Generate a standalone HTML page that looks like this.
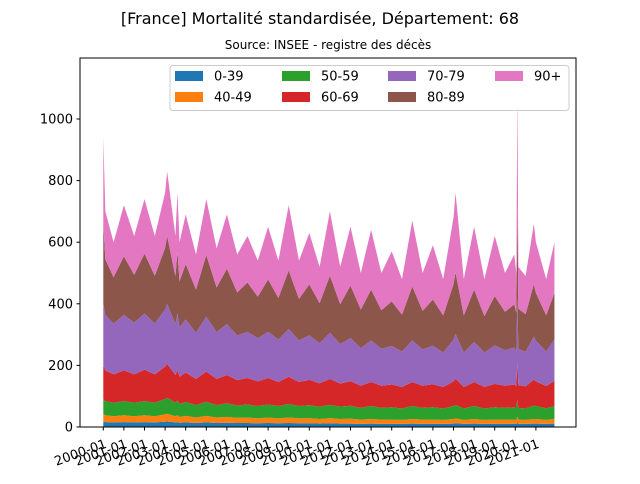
<!DOCTYPE html>
<html><head><meta charset="utf-8"><style>
body{margin:0;background:#fff;font-family:"DejaVu Sans",sans-serif}
</style></head><body>
<svg id="c" width="640" height="480" xmlns="http://www.w3.org/2000/svg" font-family="DejaVu Sans, Liberation Sans, sans-serif">
<text x="320" y="24" text-anchor="middle" font-size="16">[France] Mortalité standardisée, Département: 68</text>
<text x="328" y="49" text-anchor="middle" font-size="12">Source: INSEE - registre des décès</text>
<g id="areas"></g>
<g id="axes"></g>
<g id="legend"></g>
</svg>
<script>
const dates=[2000.0,2000.1,2000.5,2001.0,2001.5,2002.0,2002.5,2003.0,2003.1,2003.5,2003.6,2003.7,2004.0,2004.5,2005.0,2005.5,2006.0,2006.5,2007.0,2007.5,2008.0,2008.5,2009.0,2009.5,2010.0,2010.5,2011.0,2011.5,2012.0,2012.5,2013.0,2013.5,2014.0,2014.5,2015.0,2015.5,2016.0,2016.5,2017.0,2017.1,2017.5,2018.0,2018.5,2019.0,2019.5,2019.95,2020.05,2020.1,2020.15,2020.5,2020.9,2021.0,2021.5,2021.9];
const age0_39=[18,16,15,16,15,16,15,17,18,15,16,14,15,13,15,13,14,13,13,12,13,12,13,12,12,11,12,11,11,10,11,10,10,10,11,10,10,10,11,12,10,11,10,10,10,10,10,14,10,10,11,11,10,11];
const age40_49=[24,22,20,22,20,22,20,24,25,20,22,19,21,18,21,18,19,17,18,16,18,16,18,16,17,15,17,15,16,14,15,14,14,13,15,14,14,13,15,16,13,15,13,14,14,14,13,20,14,13,15,15,13,15];
const age50_59=[48,46,44,46,44,46,44,50,52,44,48,42,45,40,46,40,44,40,42,40,42,40,44,40,42,40,43,40,42,38,42,38,40,37,42,38,40,37,42,44,37,42,37,40,38,40,38,55,38,37,44,42,38,42];
const age60_69=[110,100,92,100,92,102,92,105,110,90,98,88,96,85,98,85,92,82,86,80,86,78,88,78,82,76,84,75,80,72,78,72,74,70,78,72,75,70,80,85,70,78,70,76,72,74,72,120,74,72,84,80,72,82];
const age70_79=[200,180,165,180,168,182,165,185,195,165,185,160,172,150,178,152,165,145,150,140,150,138,155,135,145,130,150,128,140,122,135,120,125,115,135,118,125,112,135,145,112,130,112,125,115,120,112,210,118,112,140,132,112,135];
const age80_89=[260,180,150,190,155,195,155,200,220,155,200,150,180,140,200,145,180,140,160,135,170,135,190,135,165,130,185,130,170,125,165,125,145,120,175,125,150,120,180,200,120,170,118,160,125,140,125,300,130,122,170,155,118,150];
const age90p=[280,156,114,166,126,177,129,179,210,131,191,127,161,114,182,127,176,123,151,117,171,121,212,124,167,118,209,121,191,119,194,121,162,115,214,123,176,118,217,258,118,204,120,195,126,162,130,381,136,124,196,165,117,165];
const seriesLabels=["0-39","40-49","50-59","60-69","70-79","80-89","90+"];
const series=[age0_39,age40_49,age50_59,age60_69,age70_79,age80_89,age90p];
const colors=["#1f77b4","#ff7f0e","#2ca02c","#d62728","#9467bd","#8c564b","#e377c2"];
const yTicks=[0,200,400,600,800,1000];
const xTickYears=[2000,2001,2002,2003,2004,2005,2006,2007,2008,2009,2010,2011,2012,2013,2014,2015,2016,2017,2018,2019,2020,2021];

const NS="http://www.w3.org/2000/svg";
const L=80,R=576,T=58,B=427;
function xs(y){return 103.3+(y-2000)*20.6;}
function ys(v){return B-v*0.308;}
function mk(tag,attrs,parent){const e=document.createElementNS(NS,tag);for(const k in attrs)e.setAttribute(k,attrs[k]);parent.appendChild(e);return e;}
const areas=document.getElementById('areas'),axes=document.getElementById('axes'),legend=document.getElementById('legend');
let base=dates.map(()=>0);
series.forEach((s,si)=>{
  const top=base.map((b,i)=>b+s[i]);
  let d="M"+dates.map((t,i)=>xs(t).toFixed(2)+","+ys(top[i]).toFixed(2)).join("L");
  for(let i=dates.length-1;i>=0;i--)d+="L"+xs(dates[i]).toFixed(2)+","+ys(base[i]).toFixed(2);
  d+="Z";
  const p=mk('path',{d:d,fill:colors[si]},areas);
  
  
  base=top;
});
const frame=mk('rect',{x:L,y:T,width:R-L,height:B-T,fill:'none',stroke:'#000','stroke-width':1},axes);


yTicks.forEach(v=>{
  const y=ys(v);
  mk('line',{x1:L-3.5,x2:L,y1:y,y2:y,stroke:'#000'},axes);
  const t=mk('text',{x:L-7,y:y+4.5,'text-anchor':'end','font-size':13},axes);
  t.textContent=v;
  
  
});
xTickYears.forEach(yr=>{
  const x=xs(yr);
  mk('line',{x1:x,x2:x,y1:B,y2:B+3.5,stroke:'#000'},axes);
  const t=mk('text',{x:x,y:B+21,'text-anchor':'end','font-size':13,transform:'rotate(-20 '+x+' '+(B+9)+')'},axes);
  t.textContent=yr+"-01";
  
  
});
const lb=mk('rect',{x:170,y:65.5,width:399,height:45,fill:'#fff','fill-opacity':0.8,stroke:'#ccc',rx:3},legend);


const colX=[175,282,388,495];
seriesLabels.forEach((lab,i)=>{
  const col=Math.floor(i/2),row=i%2;
  const x=colX[col],y=row?97:76;
  const g=mk('g',{},legend);
  
  
  mk('rect',{x:x,y:y-5,width:28,height:10,fill:colors[i]},g);
  const t=mk('text',{x:x+39,y:y+4.5,'font-size':13},g);
  t.textContent=lab;
});
</script>
</body></html>
